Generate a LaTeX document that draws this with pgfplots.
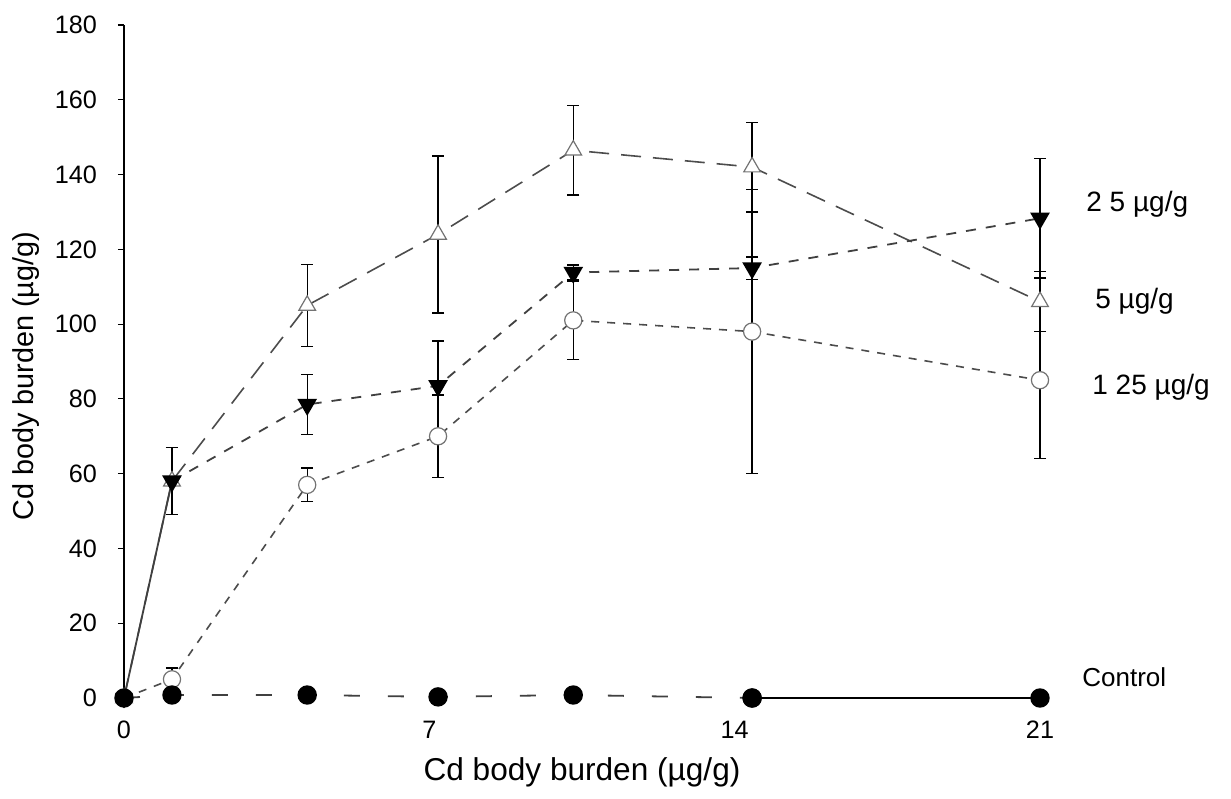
\documentclass[border=0pt]{standalone}
\usepackage{fontspec}
\setmainfont{Liberation Sans}
\usepackage{pgfplots}
\pgfplotsset{compat=1.18}

\begin{document}
\begin{tikzpicture}
\begin{axis}[
  scale only axis,
  width=458pt, height=336.5pt,
  xmin=0, xmax=21, ymin=0, ymax=180,
  clip=false,
  axis y line=left,
  axis x line=bottom,
  x axis line style={draw=none},
  y axis line style={-, black, line width=0.6pt},
  xtick={0,7,14,21},
  ytick={0,20,...,180},
  major x tick style={draw=none},
  major y tick style={black, line width=0.6pt},
  tick align=outside,
  major tick length=3pt,
  /pgf/number format/assume math mode=true,
  tick label style={font=\fontsize{12.6}{14}\selectfont},
  xticklabel style={yshift=-4.8pt},
  yticklabel style={xshift=-7pt},
  xlabel={Cd body burden (µg/g)},
  ylabel={Cd body burden (µg/g)},
  xlabel style={font=\fontsize{15.8}{18}\selectfont, at={(axis description cs:0.5,-0.111)}, anchor=center},
  ylabel style={font=\fontsize{14.4}{17}\selectfont, at={(axis description cs:-0.1064,0.478)}, anchor=center},
  error bars/error bar style={black, line width=0.7pt, solid},
  error bars/error mark options={rotate=90, mark size=3pt, black, line width=0.7pt},
]

% 1.25 ug/g -- open circles
\addplot[black!70, line width=0.8pt, dash pattern=on 4pt off 4pt,
  mark=*, mark size=4.3pt, mark options={solid, draw=black!55, fill=white, line width=0.6pt},
  error bars/.cd, y dir=both, y explicit]
  coordinates {
    (0,0) +- (0,0)
    (1.1,5) +- (0,3)
    (4.2,57) +- (0,4.5)
    (7.2,70) +- (0,11)
    (10.3,101) +- (0,10.5)
    (14.4,98) +- (0,38)
    (21,85) +- (0,21)
  };

% 5 ug/g -- open triangles
\addplot[black!70, line width=0.8pt, dash pattern=on 10pt off 6pt,
  mark=triangle*, mark size=4.8pt, mark options={solid, draw=black!55, fill=white, line width=0.6pt},
  error bars/.cd, y dir=both, y explicit]
  coordinates {
    (0,0) +- (0,0)
    (1.1,58) +- (0,9)
    (4.2,105) +- (0,11)
    (7.2,124) +- (0,21)
    (10.3,146.5) +- (0,12)
    (14.4,142) +- (0,12)
    (21,106) +- (0,8)
  };

% 2.5 ug/g -- filled inverted triangles
\addplot[black!75, line width=0.9pt, forget plot] coordinates {(0,0) (1.1,58)};
\addplot[black!75, line width=0.9pt, dash pattern=on 5pt off 5pt,
  mark=triangle*, mark size=4.8pt, mark options={solid, black, rotate=180},
  error bars/.cd, y dir=both, y explicit]
  coordinates {
    (1.1,58) +- (0,9)
    (4.2,78.5) +- (0,8)
    (7.2,83.5) +- (0,12)
    (10.3,113.8) +- (0,2)
    (14.4,115) +- (0,3)
    (21,128.3) +- (0,16)
  };
\addplot[only marks, mark=triangle*, mark size=4.8pt, mark options={black, rotate=180}, forget plot]
  coordinates {(0,0)};

% Control -- filled circles
\addplot[black!75, line width=0.9pt, dash pattern=on 8pt off 14pt,
  mark=*, mark size=4.4pt, mark options={solid, black}]
  coordinates {(0,0) (1.1,0.8) (4.2,0.8) (7.2,0.3) (10.3,0.8) (14.4,0)};
\addplot[black, line width=0.9pt, mark=*, mark size=4.4pt, mark options={solid, black}, forget plot]
  coordinates {(14.4,0) (21,0)};

% series names at the right-hand end
\node[anchor=west, inner sep=0pt, xshift=23pt, font=\fontsize{14}{16}\selectfont] at (axis cs:21,132) {2 5 µg/g};
\node[anchor=west, inner sep=0pt, xshift=27.5pt, font=\fontsize{14}{16}\selectfont] at (axis cs:21,106) {5 µg/g};
\node[anchor=west, inner sep=0pt, xshift=26pt, font=\fontsize{14}{16}\selectfont] at (axis cs:21,83) {1 25 µg/g};
\node[anchor=west, inner sep=0pt, xshift=21pt, font=\fontsize{13}{15}\selectfont] at (axis cs:21,5.6) {Control};

% white margin around the plot
\path (rel axis cs:0,0) ++(-62pt,-50pt);
\path (rel axis cs:0,1) ++(553.5pt,12.5pt);
\end{axis}
\end{tikzpicture}
\end{document}
